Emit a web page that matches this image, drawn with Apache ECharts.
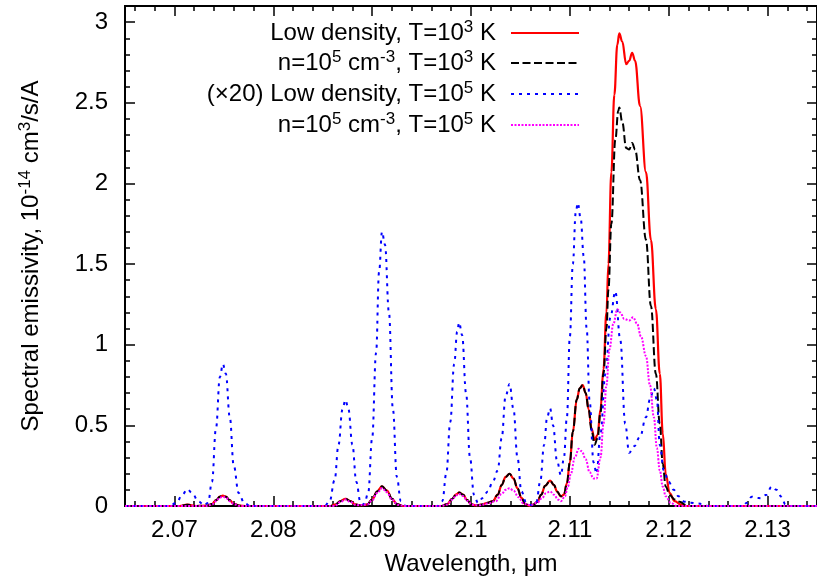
<!DOCTYPE html>
<html><head><meta charset="utf-8">
<script src="https://cdn.jsdelivr.net/npm/echarts@6/dist/echarts.min.js"></script>
<style>html,body{margin:0;padding:0;background:#fff}#c{width:817px;height:582px}</style>
</head><body><div id="c"></div>
<script>
// ---- ticks ----
const xMajorTicks = [2.07, 2.08, 2.09, 2.1, 2.11, 2.12, 2.13];
const xMinorTicks = [2.066, 2.068, 2.072, 2.074, 2.076, 2.078, 2.082, 2.084, 2.086, 2.088, 2.092, 2.094, 2.096, 2.098, 2.102, 2.104, 2.106, 2.108, 2.112, 2.114, 2.116, 2.118, 2.122, 2.124, 2.126, 2.128, 2.132, 2.134];
const yMajorTicks = [0, 0.5, 1, 1.5, 2, 2.5, 3];
const yMinorTicks = [0.1, 0.2, 0.3, 0.4, 0.6, 0.7, 0.8, 0.9, 1.1, 1.2, 1.3, 1.4, 1.6, 1.7, 1.8, 1.9, 2.1, 2.2, 2.3, 2.4, 2.6, 2.7, 2.8, 2.9];

// ---- series names / legend labels ----
const seriesNames = ['lowT3', 'n5T3', 'lowT5x20', 'n5T5'];
const legendLabels = [
  'Low density, T=10{sup|3} K',
  'n=10{sup|5} cm{sup|-3}, T=10{sup|3} K',
  '(\u00d720) Low density, T=10{sup|5} K',
  'n=10{sup|5} cm{sup|-3}, T=10{sup|5} K'
];

// ---- data: Low density, T=1e3 K (red) ----
const redX = [2.065, 2.0705, 2.0713, 2.0722, 2.0733, 2.0738, 2.0742, 2.0746, 2.0749, 2.0752, 2.0756, 2.0760, 2.0766, 2.0772,
  2.0858, 2.0863, 2.0868, 2.0873, 2.0878, 2.0883, 2.0889, 2.0895, 2.0900, 2.0905, 2.0910, 2.0915, 2.0920, 2.0925, 2.0931,
  2.0970, 2.0976, 2.0981, 2.0985, 2.0988, 2.0992, 2.0996, 2.1000, 2.1005, 2.1010, 2.1017, 2.1022, 2.1027, 2.1031, 2.1035, 2.1039, 2.1043, 2.1047, 2.1051, 2.1055, 2.1059,
  2.1063, 2.1067, 2.1071, 2.1075, 2.1080, 2.1084, 2.1087, 2.1091, 2.1094, 2.1097, 2.1100, 2.1103, 2.1107, 2.1110, 2.1113, 2.1116, 2.1119, 2.1122, 2.1125, 2.1128,
  2.1131, 2.1134, 2.1137, 2.1139, 2.1142, 2.1145, 2.1148, 2.1150, 2.1153, 2.1157, 2.1160, 2.1163, 2.1166, 2.1171, 2.1177, 2.1182, 2.1187, 2.1191, 2.1194, 2.1197,
  2.1201, 2.1206, 2.1212, 2.1218, 2.135];
const redY = [0, 0, 0.008, 0, 0.002, 0.012, 0.035, 0.058, 0.064, 0.058, 0.035, 0.013, 0.002, 0,
  0, 0.01, 0.03, 0.045, 0.03, 0.01, 0.003, 0.01, 0.04, 0.09, 0.122, 0.095, 0.045, 0.012, 0,
  0, 0.012, 0.045, 0.072, 0.083, 0.07, 0.038, 0.012, 0.003, 0.008, 0.02, 0.03, 0.07, 0.13, 0.18, 0.2, 0.17, 0.11, 0.05, 0.012, 0.002,
  0.008, 0.025, 0.07, 0.125, 0.157, 0.13, 0.09, 0.06, 0.07, 0.14, 0.27, 0.46, 0.66, 0.73, 0.75, 0.7, 0.6, 0.48, 0.41, 0.44,
  0.6, 0.85, 1.2, 1.5, 2.07, 2.55, 2.86, 2.93, 2.88, 2.74, 2.76, 2.81, 2.76, 2.48, 2.07, 1.65, 1.22, 0.82, 0.45, 0.2,
  0.08, 0.03, 0.01, 0, 0];

// ---- data: n=1e5, T=1e3 K (black dashed) ----
const blackX = [2.065, 2.0705, 2.0713, 2.0722, 2.0733, 2.0738, 2.0742, 2.0746, 2.0749, 2.0752, 2.0756, 2.0760, 2.0766, 2.0772,
  2.0858, 2.0863, 2.0868, 2.0873, 2.0878, 2.0883, 2.0889, 2.0895, 2.0900, 2.0905, 2.0910, 2.0915, 2.0920, 2.0925, 2.0931,
  2.0970, 2.0976, 2.0981, 2.0985, 2.0988, 2.0992, 2.0996, 2.1000, 2.1005, 2.1010, 2.1017, 2.1022, 2.1027, 2.1031, 2.1035, 2.1039, 2.1043, 2.1047, 2.1051, 2.1055, 2.1059,
  2.1063, 2.1067, 2.1071, 2.1075, 2.1080, 2.1084, 2.1087, 2.1091, 2.1094, 2.1097, 2.1100, 2.1103, 2.1107, 2.1110, 2.1113, 2.1116, 2.1119, 2.1122, 2.1125, 2.1128,
  2.1131, 2.1134, 2.1137, 2.1139, 2.1142, 2.1146, 2.1149, 2.1150, 2.1153, 2.1157, 2.1160, 2.1163, 2.1166, 2.1171, 2.1177, 2.1182, 2.1187, 2.1191, 2.1194, 2.1197,
  2.1201, 2.1206, 2.1211, 2.1218, 2.1222, 2.135];
const blackY = [0, 0, 0.008, 0, 0.002, 0.012, 0.035, 0.058, 0.064, 0.058, 0.035, 0.013, 0.002, 0,
  0, 0.01, 0.03, 0.045, 0.03, 0.01, 0.003, 0.01, 0.04, 0.09, 0.122, 0.095, 0.045, 0.012, 0,
  0, 0.012, 0.045, 0.072, 0.083, 0.07, 0.038, 0.012, 0.003, 0.008, 0.02, 0.03, 0.07, 0.13, 0.18, 0.2, 0.17, 0.11, 0.05, 0.012, 0.002,
  0.008, 0.025, 0.07, 0.125, 0.157, 0.13, 0.09, 0.06, 0.07, 0.14, 0.27, 0.46, 0.66, 0.73, 0.75, 0.7, 0.6, 0.47, 0.38, 0.42,
  0.58, 0.82, 1.1, 1.34, 1.75, 2.27, 2.45, 2.47, 2.38, 2.22, 2.21, 2.25, 2.21, 2.02, 1.65, 1.24, 0.82, 0.51, 0.26, 0.12,
  0.068, 0.04, 0.027, 0.005, 0, 0];

// ---- data: (x20) Low density, T=1e5 K (blue dotted) ----
const blueX = [2.065, 2.0695, 2.0702, 2.0708, 2.0713, 2.0718, 2.0724, 2.0730, 2.0734, 2.0738, 2.0742, 2.0746, 2.0749, 2.0752, 2.0756, 2.0760, 2.0765, 2.0771, 2.0777,
  2.0852, 2.0857, 2.0862, 2.0866, 2.0870, 2.0873, 2.0876, 2.0880, 2.0884, 2.0888, 2.0892, 2.0896, 2.0900, 2.0904, 2.0907, 2.0910, 2.0913, 2.0917, 2.0921, 2.0925, 2.0929, 2.0934,
  2.0966, 2.0971, 2.0975, 2.0979, 2.0983, 2.0986, 2.0988, 2.0991, 2.0995, 2.0999, 2.1003, 2.1007, 2.1012, 2.1017, 2.1022, 2.1027, 2.1031, 2.1035, 2.1039, 2.1043, 2.1047, 2.1051, 2.1056, 2.1061,
  2.1066, 2.1070, 2.1074, 2.1077, 2.1080, 2.1083, 2.1087, 2.1091, 2.1094, 2.1097, 2.1100, 2.1103, 2.1106, 2.1108, 2.1111, 2.1114, 2.1117, 2.1120, 2.1124, 2.1127,
  2.1131, 2.1136, 2.1141, 2.1146, 2.1151, 2.1156, 2.1160, 2.1165, 2.1171, 2.1177, 2.1181, 2.1185, 2.1188, 2.1191, 2.1195, 2.1200, 2.1205, 2.1210, 2.1216, 2.1222, 2.1229, 2.1235, 2.1240,
  2.1275, 2.1279, 2.1284, 2.1289, 2.1293, 2.1299, 2.1304, 2.1309, 2.1314, 2.1318, 2.1323, 2.135];
const blueY = [0, 0, 0.02, 0.07, 0.104, 0.08, 0.03, 0.005, 0.02, 0.15, 0.48, 0.8, 0.88, 0.82, 0.55, 0.25, 0.08, 0.015, 0,
  0, 0.03, 0.16, 0.38, 0.6, 0.658, 0.6, 0.38, 0.15, 0.03, 0.01, 0.08, 0.42, 0.95, 1.45, 1.7, 1.62, 1.2, 0.6, 0.18, 0.03, 0,
  0, 0.03, 0.2, 0.52, 0.88, 1.08, 1.138, 1.06, 0.7, 0.3, 0.07, 0.02, 0.05, 0.09, 0.15, 0.22, 0.42, 0.68, 0.757, 0.6, 0.3, 0.09, 0.02, 0.005,
  0.02, 0.15, 0.38, 0.55, 0.606, 0.5, 0.28, 0.19, 0.3, 0.55, 1.05, 1.5, 1.82, 1.879, 1.78, 1.55, 1.1, 0.65, 0.27, 0.2,
  0.45, 0.82, 1.17, 1.33, 1.03, 0.51, 0.33, 0.37, 0.43, 0.55, 0.66, 0.73, 0.66, 0.38, 0.22, 0.15, 0.1, 0.06, 0.027, 0.02, 0.015, 0.012, 0,
  0, 0.02, 0.058, 0.05, 0.048, 0.07, 0.12, 0.1, 0.058, 0.01, 0, 0];

// ---- data: n=1e5, T=1e5 K (magenta dotted) ----
const magentaX = [2.065, 2.0733, 2.0738, 2.0742, 2.0746, 2.0749, 2.0752, 2.0756, 2.0760, 2.0766,
  2.0862, 2.0868, 2.0873, 2.0878, 2.0884, 2.0895, 2.0900, 2.0905, 2.0910, 2.0915, 2.0920, 2.0926, 2.0932,
  2.0970, 2.0976, 2.0981, 2.0985, 2.0988, 2.0992, 2.0996, 2.1001, 2.1008, 2.1017, 2.1025, 2.1031, 2.1035, 2.1039, 2.1043, 2.1048, 2.1053, 2.1060,
  2.1067, 2.1072, 2.1076, 2.1080, 2.1084, 2.1088, 2.1091, 2.1095, 2.1098, 2.1101, 2.1105, 2.1109, 2.1112, 2.1116, 2.1120, 2.1124, 2.1127,
  2.1131, 2.1134, 2.1137, 2.1140, 2.1144, 2.1148, 2.1151, 2.1155, 2.1160, 2.1164, 2.1168, 2.1172, 2.1177, 2.1181, 2.1185, 2.1188, 2.1191, 2.1194, 2.1197, 2.1202, 2.1208, 2.135];
const magentaY = [0, 0, 0.01, 0.03, 0.052, 0.058, 0.052, 0.03, 0.012, 0,
  0, 0.025, 0.04, 0.025, 0.005, 0.008, 0.035, 0.08, 0.11, 0.085, 0.04, 0.008, 0,
  0, 0.01, 0.04, 0.066, 0.075, 0.062, 0.033, 0.008, 0.004, 0.015, 0.03, 0.075, 0.1, 0.11, 0.095, 0.055, 0.015, 0.005,
  0.02, 0.05, 0.08, 0.09, 0.07, 0.04, 0.03, 0.06, 0.12, 0.2, 0.3, 0.355, 0.34, 0.29, 0.21, 0.17, 0.17,
  0.3, 0.51, 0.75, 0.97, 1.13, 1.22, 1.2, 1.16, 1.15, 1.17, 1.13, 1.05, 0.93, 0.75, 0.55, 0.36, 0.22, 0.12, 0.06, 0.02, 0, 0];

const FONT = 'Liberation Sans, Arial, Helvetica, sans-serif';
const FS = 24;
const supStyle = { fontSize: 17, fontFamily: FONT, color: '#000', verticalAlign: 'top', lineHeight: 17 };
const pair = (xs, ys) => xs.map((x, i) => [x, ys[i]]);

const chart = echarts.init(document.getElementById('c'), null, { renderer: 'canvas' });

const gridPos = { left: 125, top: 6, right: -5, bottom: 76 };

function xAx(gridIndex, position, ticks, len, main) {
  return {
    type: 'value', gridIndex, position, min: 2.065, max: 2.135,
    axisLine: { show: true, onZero: false, lineStyle: { color: '#000', width: 2 } },
    axisTick: { show: true, inside: true, length: len, customValues: ticks, lineStyle: { color: '#000', width: 1.5 } },
    axisLabel: main ? {
      show: true, customValues: xMajorTicks, margin: 12, color: '#000', fontSize: FS, fontFamily: FONT,
      formatter: v => String(parseFloat(Number(v).toFixed(3)))
    } : { show: false },
    splitLine: { show: false },
    name: main ? 'Wavelength, \u03bcm' : '',
    nameLocation: 'middle', nameGap: 46,
    nameTextStyle: { color: '#000', fontSize: FS, fontFamily: FONT }
  };
}
function yAx(gridIndex, position, ticks, len, main) {
  return {
    type: 'value', gridIndex, position, min: 0, max: 3.1,
    axisLine: { show: true, onZero: false, lineStyle: { color: '#000', width: 2 } },
    axisTick: { show: true, inside: true, length: len, customValues: ticks, lineStyle: { color: '#000', width: 1.5 } },
    axisLabel: main ? {
      show: true, customValues: yMajorTicks, margin: 17, color: '#000', fontSize: FS, fontFamily: FONT,
      formatter: v => String(parseFloat(Number(v).toFixed(2)))
    } : { show: false },
    splitLine: { show: false },
    name: main ? 'Spectral emissivity, 10{sup|-14} cm{sup|3}/s/A' : '',
    nameLocation: 'middle', nameRotate: 90, nameGap: 80,
    nameTextStyle: { color: '#000', fontSize: FS, fontFamily: FONT, lineHeight: 28, rich: { sup: supStyle } }
  };
}

const lineStyles = [
  { color: '#ff0000', width: 2.2, type: 'solid' },
  { color: '#000000', width: 2, type: [8, 3.5] },
  { color: '#0000ff', width: 2, type: [3, 5] },
  { color: '#ff00ff', width: 2, type: [2, 1.5] }
];
const datasets = [pair(redX, redY), pair(blackX, blackY), pair(blueX, blueY), pair(magentaX, magentaY)];
const drawOrder = [2, 3, 1, 0];

const legendTops = [19, 49, 80, 111];
const legends = seriesNames.map((n, i) => ({
  data: [n], right: 237, top: legendTops[i], orient: 'horizontal', align: 'right',
  itemWidth: 68, itemHeight: 14, padding: 0, selectedMode: false,
  itemStyle: { opacity: 0 },
  formatter: () => legendLabels[i],
  textStyle: { color: '#000', fontSize: FS, fontFamily: FONT, lineHeight: 28, padding: [0, 10, 0, 0], rich: { sup: supStyle } }
}));

chart.setOption({
  animation: false,
  backgroundColor: '#fff',
  grid: [gridPos, gridPos],
  xAxis: [xAx(0, 'bottom', xMajorTicks, 10, true), xAx(0, 'top', xMajorTicks, 10, false),
          xAx(1, 'bottom', xMinorTicks, 5, false), xAx(1, 'top', xMinorTicks, 5, false)],
  yAxis: [yAx(0, 'left', yMajorTicks, 10, true), yAx(0, 'right', yMajorTicks, 10, false),
          yAx(1, 'left', yMinorTicks, 5, false), yAx(1, 'right', yMinorTicks, 5, false)],
  legend: legends,
  series: drawOrder.map(i => ({
    name: seriesNames[i], type: 'line', xAxisIndex: 0, yAxisIndex: 0,
    data: datasets[i], showSymbol: false, symbol: 'none', smooth: 0.4, smoothMonotone: 'x',
    lineStyle: lineStyles[i], itemStyle: { color: lineStyles[i].color }, z: 2 + i
  }))
});
</script></body></html>
